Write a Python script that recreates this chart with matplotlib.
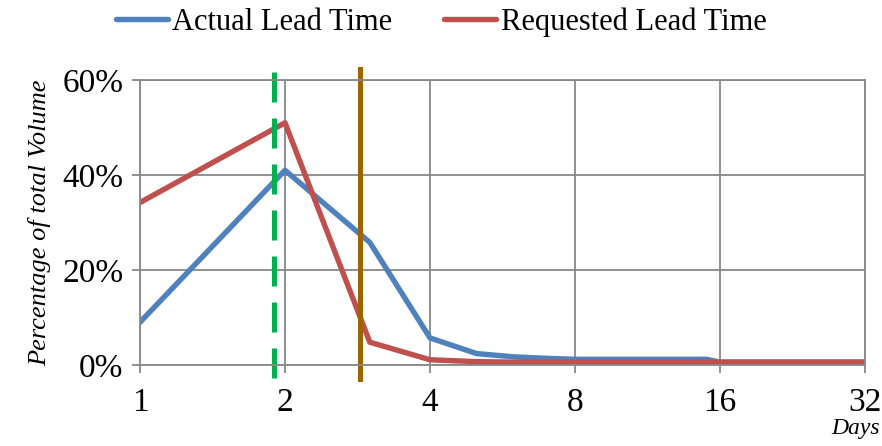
import matplotlib
matplotlib.use('Agg')
import matplotlib.pyplot as plt
from matplotlib.ticker import FixedLocator, FuncFormatter

# lead time in days (log2 axis)
days = [1, 2, 3, 4, 5, 6, 7, 8, 10, 12, 14, 15, 16, 20, 24, 28, 32]
actual = [9.0, 41.0, 25.8, 5.7, 2.4, 1.7, 1.4, 1.2, 1.2, 1.2, 1.2, 1.2, 0.6, 0.6, 0.6, 0.6, 0.6]
requested = [34.2, 51.0, 4.8, 1.1, 0.7, 0.6, 0.6, 0.6, 0.6, 0.6, 0.6, 0.6, 0.6, 0.6, 0.6, 0.6, 0.6]
x_ticks = [1, 2, 4, 8, 16, 32]
y_ticks = [0, 20, 40, 60]
green_mark = 1.9
brown_mark = 2.86

plt.rcParams['font.family'] = ['Liberation Serif', 'DejaVu Serif']

fig = plt.figure(figsize=(8.82, 4.46), dpi=100)
ax = fig.add_axes([140/882, 81/446, 725/882, 285/446])

ax.plot(days, actual, color='#4F81BD', lw=3.9, label='Actual Lead Time', solid_capstyle='round')
ax.plot(days, requested, color='#C0504D', lw=3.9, label='Requested Lead Time', solid_capstyle='round')

ax.axvline(green_mark, ymin=-0.045, ymax=1.045, color='#00B050', lw=3.6,
           dashes=(6, 3.2), clip_on=False)
ax.axvline(brown_mark, ymin=-0.05, ymax=1.04, color='#9C6500', lw=3.6, clip_on=False)

ax.set_xscale('log', base=2)
ax.set_xlim(1, 32)
ax.set_ylim(0, 60)
ax.xaxis.set_major_locator(FixedLocator(x_ticks))
ax.xaxis.set_minor_locator(FixedLocator([]))
ax.xaxis.set_major_formatter(FuncFormatter(lambda v, p: '%d' % v))
ax.yaxis.set_major_locator(FixedLocator(y_ticks))
ax.yaxis.set_major_formatter(FuncFormatter(lambda v, p: '%d%%' % v))

ax.grid(True, color='#888888', lw=1.3)
ax.set_axisbelow(True)
for s in ax.spines.values():
    s.set_color('#888888')
    s.set_linewidth(1.3)
ax.tick_params(axis='both', color='#888888', width=1.3, length=6, labelsize=24)
ax.tick_params(axis='x', pad=10)
ax.tick_params(axis='y', pad=6)

ax.set_ylabel('Percentage of total Volume', fontsize=19, style='italic', labelpad=8)
fig.text(880/882, 7/446, 'Days', fontsize=17, style='italic', ha='right', va='bottom')

fig.legend(loc='upper center', bbox_to_anchor=(0.5, 1.045), ncol=2, frameon=False,
           fontsize=22, handlelength=1.7, handletextpad=0.15, columnspacing=1.7)

fig.savefig('out.png', dpi=100)
